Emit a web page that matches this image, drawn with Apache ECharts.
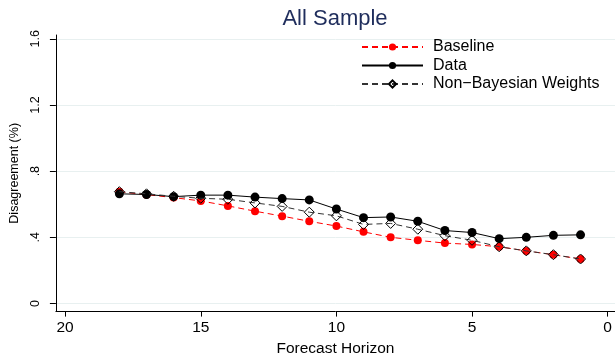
<!DOCTYPE html>
<html>
<head>
<meta charset="utf-8">
<script src="https://cdn.jsdelivr.net/npm/echarts@6/dist/echarts.min.js"></script>
<style>
html,body{margin:0;padding:0;background:#fff;}
#chart{width:615px;height:362px;}
</style>
</head>
<body>
<div id="chart"></div>
<script>
var horizons = [18, 17, 16, 15, 14, 13, 12, 11, 10, 9, 8, 7, 6, 5, 4, 3, 2, 1];
var baseline = [0.675, 0.658, 0.640, 0.620, 0.590, 0.558, 0.528, 0.497, 0.468, 0.433, 0.400, 0.382, 0.365, 0.357, 0.343, 0.318, 0.295, 0.269];
var dataSeries = [0.663, 0.659, 0.646, 0.655, 0.655, 0.643, 0.634, 0.626, 0.571, 0.519, 0.523, 0.497, 0.441, 0.429, 0.392, 0.400, 0.412, 0.415];
var nonBayes = [0.676, 0.663, 0.648, 0.636, 0.630, 0.608, 0.587, 0.552, 0.530, 0.478, 0.484, 0.449, 0.410, 0.382, 0.343, 0.318, 0.295, 0.269];
var seriesNames = ['Baseline', 'Data', 'Non\u2212Bayesian Weights'];
var xTicks = [20, 15, 10, 5, 0];
var yTicks = [0, 0.4, 0.8, 1.2, 1.6];
var yTickLabels = ['0', '.4', '.8', '1.2', '1.6'];

function pairs(vals) {
  return horizons.map(function (h, i) { return [h, vals[i]]; });
}
var FONT = '"Liberation Sans", Arial, Helvetica, sans-serif';
var chart = echarts.init(document.getElementById('chart'), null, {renderer: 'canvas'});
chart.setOption({
  animation: false,
  backgroundColor: '#ffffff',
  title: {
    text: 'All Sample',
    left: 330,
    top: 3,
    textAlign: 'center',
    textStyle: {fontFamily: FONT, fontSize: 22, fontWeight: 'normal', color: '#1f2d5c'}
  },
  legend: {
    orient: 'vertical',
    left: 361,
    top: 39,
    padding: 0,
    itemWidth: 61,
    itemHeight: 9,
    itemGap: 2.5,
    data: seriesNames,
    textStyle: {fontFamily: FONT, fontSize: 16, color: '#000', lineHeight: 16, padding: [0, 0, 0, 5]}
  },
  grid: {left: 54, right: 0, top: 35, bottom: 41.3, containLabel: false},
  xAxis: {
    type: 'value',
    inverse: true,
    min: -0.27,
    max: 20.34,
    name: 'Forecast Horizon',
    nameLocation: 'middle',
    nameGap: 21.5,
    nameTextStyle: {fontFamily: FONT, fontSize: 15.5, color: '#000'},
    axisLine: {show: true, onZero: false, lineStyle: {color: '#000', width: 1}},
    axisTick: {show: true, length: 5, customValues: xTicks, lineStyle: {color: '#000'}},
    axisLabel: {customValues: xTicks, margin: 8.5, fontFamily: FONT, fontSize: 15.5, color: '#000'},
    splitLine: {show: false}
  },
  yAxis: {
    type: 'value',
    min: -0.049,
    max: 1.623,
    name: 'Disagreement (%)',
    nameLocation: 'middle',
    nameGap: 26,
    nameTextStyle: {fontFamily: FONT, fontSize: 12.5, color: '#000'},
    axisLine: {show: true, onZero: false, lineStyle: {color: '#000', width: 1}},
    axisTick: {show: true, length: 6, customValues: yTicks, lineStyle: {color: '#000'}},
    axisLabel: {
      customValues: yTicks,
      rotate: 90,
      margin: 14,
      fontFamily: FONT,
      fontSize: 12.5,
      color: '#000',
      formatter: function (v) {
        var i = yTicks.findIndex(function (t) { return Math.abs(t - v) < 1e-6; });
        return i >= 0 ? yTickLabels[i] : '';
      }
    },
    splitLine: {show: true, lineStyle: {color: '#e8f0f0', width: 1}}
  },
  series: [
    {
      name: seriesNames[0],
      type: 'line',
      data: pairs(baseline),
      symbol: 'circle',
      symbolSize: 8,
      itemStyle: {color: '#ff0000'},
      lineStyle: {color: '#ff0000', width: 1, type: [6, 4]},
      z: 2
    },
    {
      name: seriesNames[1],
      type: 'line',
      data: pairs(dataSeries),
      symbol: 'circle',
      symbolSize: 9,
      itemStyle: {color: '#000'},
      lineStyle: {color: '#000', width: 1, type: 'solid'},
      z: 3
    },
    {
      name: seriesNames[2],
      type: 'line',
      data: pairs(nonBayes),
      symbol: 'diamond',
      symbolSize: 10,
      itemStyle: {color: 'rgba(0,0,0,0)', borderColor: '#000', borderWidth: 1},
      lineStyle: {color: '#333', width: 1, type: [6, 4]},
      z: 4
    }
  ]
});
</script>
</body>
</html>
